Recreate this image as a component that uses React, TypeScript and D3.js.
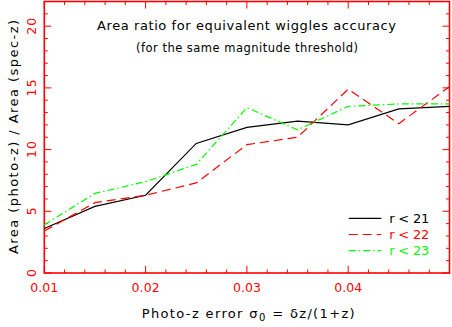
import * as React from "react";
import * as d3 from "d3";

// photo-z error sigma_0 values
const sigmas = [0.01, 0.015, 0.02, 0.025, 0.03, 0.035, 0.04, 0.045, 0.05];

// area ratio for each magnitude cut
const r21 = [3.6, 5.4, 6.3, 10.5, 11.8, 12.3, 12.0, 13.3, 13.5];
const r22 = [3.4, 5.7, 6.3, 7.3, 10.4, 11.0, 14.9, 12.1, 15.1];
const r23 = [3.9, 6.45, 7.4, 8.8, 13.4, 11.6, 13.5, 13.7, 13.7];

const xTicks = [0.01, 0.02, 0.03, 0.04, 0.05];
const yTicks = [0, 5, 10, 15, 20];

const series = [
  { label: "r < 21", values: r21, color: "#000000", dash: "" },
  { label: "r < 22", values: r22, color: "#ff0000", dash: "9,5" },
  { label: "r < 23", values: r23, color: "#00ff00", dash: "7,3,1.5,3" },
];

const W = 452, H = 327;
const margin = { top: 1.5, right: 2.5, bottom: 54, left: 44.3 };
const font = "'DejaVu Sans', 'Liberation Sans', sans-serif";

export default function App() {
  const x = d3.scaleLinear().domain([0.01, 0.05]).range([margin.left, W - margin.right]);
  const y = d3.scaleLinear().domain([0, 22]).range([H - margin.bottom, margin.top]);
  const [x0, x1] = x.range();
  const [y0, y1] = y.range();

  const xMinor = d3.range(0.01, 0.0501, 0.002);
  const yMinor = d3.range(0, 23, 1);

  const line = d3.line<number>()
    .x((d, i) => x(sigmas[i]))
    .y(d => y(d));

  const red = "#ff0000";
  const major = 7, minor = 3.5;

  return (
    <svg width={W} height={H} style={{ position: "absolute", left: 0, top: 0, background: "#fff" }}>
      <rect width={W} height={H} fill="#fff" />
      {/* tick marks */}
      <g stroke={red} strokeWidth={1}>
        {xMinor.map((t, i) => {
          const len = xTicks.some(m => Math.abs(m - t) < 1e-6) ? major : minor;
          return (
            <g key={"x" + i}>
              <line x1={x(t)} x2={x(t)} y1={y0} y2={y0 - len} />
              <line x1={x(t)} x2={x(t)} y1={y1} y2={y1 + len} />
            </g>
          );
        })}
        {yMinor.map((t, i) => {
          const len = t % 5 === 0 ? major : minor;
          return (
            <g key={"y" + i}>
              <line x1={x0} x2={x0 + len} y1={y(t)} y2={y(t)} />
              <line x1={x1} x2={x1 - len} y1={y(t)} y2={y(t)} />
            </g>
          );
        })}
      </g>
      <rect x={x0} y={y1} width={x1 - x0} height={y0 - y1} fill="none" stroke={red} strokeWidth={1.6} />

      {/* tick labels */}
      <g fill={red} fontFamily={font} fontSize={12.5}>
        {xTicks.slice(0, 4).map(t => (
          <text key={t} x={x(t)} y={y0 + 18.5} textAnchor="middle" textLength={28} lengthAdjust="spacing">{t.toFixed(2)}</text>
        ))}
        {yTicks.map(t => (
          <text key={t} transform={`translate(35.5,${y(t)}) rotate(-90)`} textAnchor="middle"
            textLength={t < 10 ? 8 : 17} lengthAdjust="spacing">{t}</text>
        ))}
      </g>

      {/* data */}
      <g fill="none" strokeWidth={1.2}>
        {series.map(s => (
          <path key={s.label} d={line(s.values) || ""} stroke={s.color} strokeDasharray={s.dash || undefined} />
        ))}
      </g>

      {/* titles */}
      <g fontFamily={font} fill="#000">
        <text x={246.5} y={30} textAnchor="middle" fontSize={13} textLength={299} lengthAdjust="spacing">Area ratio for equivalent wiggles accuracy</text>
        <text x={247} y={51.5} textAnchor="middle" fontSize={11.5} textLength={222} lengthAdjust="spacing">(for the same magnitude threshold)</text>
        <text x={141.7} y={318} fontSize={13} textLength={213} lengthAdjust="spacing">
          Photo-z error σ<tspan fontSize={10} dy={3}>0</tspan><tspan dy={-3}> = δz/(1+z)</tspan>
        </text>
        <text transform={`translate(18,137) rotate(-90)`} textAnchor="middle" fontSize={13} textLength={234} lengthAdjust="spacing">Area (photo-z) / Area (spec-z)</text>
      </g>

      {/* legend */}
      <g fontFamily={font} fontSize={13}>
        {series.map((s, i) => {
          const ly = 218.3 + i * 16.2;
          return (
            <g key={s.label}>
              <line x1={348.7} x2={381.3} y1={ly} y2={ly} stroke={s.color} strokeWidth={1.2} strokeDasharray={s.dash || undefined} />
              <text x={389.3} y={ly + 4.5} fill={s.color} textLength={40} lengthAdjust="spacing">{s.label}</text>
            </g>
          );
        })}
      </g>
    </svg>
  );
}
